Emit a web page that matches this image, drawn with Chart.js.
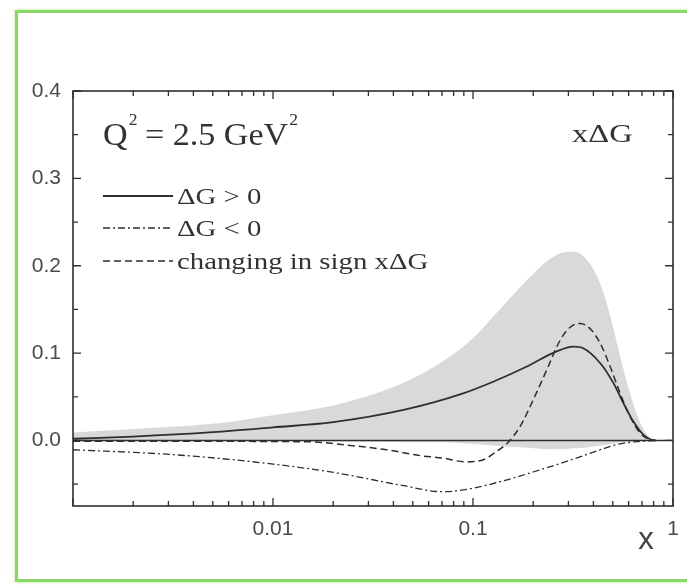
<!DOCTYPE html>
<html lang="en">
<head>
    <meta charset="UTF-8">
    <title>xΔG at Q² = 2.5 GeV²</title>
    <script src="https://cdn.jsdelivr.net/npm/chart.js"></script>
    <style>
        body {
            margin: 0;
            background: #fff;
            overflow: hidden;
        }

        #wrap {
            position: relative;
            width: 687px;
            height: 585px;
        }

        #frame {
            position: absolute;
            left: 15px;
            top: 10px;
            width: 700px;
            height: 566px;
            border: 3px solid #8cd862;
            box-shadow: 0 0 4px #bdeea4;
            pointer-events: none;
        }
    </style>
</head>
<body>

<div id="wrap">
    <canvas id="gluon-chart" width="687" height="585"></canvas>
    <div id="frame"></div>
</div>

<script>
    // error band of x*DeltaG (upper / lower edge, same x grid)
    const xBand = [0.001, 0.002, 0.005, 0.01, 0.02, 0.045, 0.07, 0.1, 0.13, 0.18, 0.24, 0.28, 0.32, 0.37, 0.43, 0.49, 0.55, 0.61, 0.68, 0.76, 0.82];
    const bandHi = [0.009, 0.013, 0.019, 0.029, 0.040, 0.066, 0.090, 0.117, 0.145, 0.180, 0.207, 0.215, 0.216, 0.207, 0.181, 0.139, 0.092, 0.054, 0.022, 0.004, 0.0];
    const bandLo = [-0.001, -0.001, -0.001, -0.001, -0.001, -0.002, -0.002, -0.004, -0.006, -0.008, -0.010, -0.010, -0.009, -0.008, -0.006, -0.004, -0.002, -0.001, 0.0, 0.0, 0.0];

    // DeltaG > 0
    const xPos = [0.001, 0.002, 0.005, 0.01, 0.02, 0.045, 0.087, 0.127, 0.186, 0.26, 0.318, 0.356, 0.433, 0.504, 0.565, 0.634, 0.712, 0.78, 0.82];
    const posVals = [0.002, 0.0045, 0.0095, 0.015, 0.021, 0.035, 0.053, 0.0675, 0.0846, 0.1017, 0.1074, 0.1056, 0.0884, 0.0656, 0.0427, 0.0217, 0.0065, 0.0008, 0.0];

    // DeltaG < 0
    const xNeg = [0.001, 0.0032, 0.01, 0.021, 0.045, 0.069, 0.08, 0.101, 0.148, 0.217, 0.318, 0.433, 0.544, 0.685, 0.82];
    const negVals = [-0.0106, -0.0163, -0.027, -0.0373, -0.0518, -0.0585, -0.058, -0.0545, -0.045, -0.0335, -0.0213, -0.0106, -0.0038, -0.001, 0.0];

    // changing in sign
    const xSign = [0.001, 0.005, 0.015, 0.025, 0.037, 0.055, 0.07, 0.092, 0.113, 0.131, 0.15, 0.172, 0.2, 0.234, 0.273, 0.306, 0.343, 0.385, 0.433, 0.485, 0.544, 0.611, 0.685, 0.77, 0.82];
    const signVals = [-0.001, -0.001, -0.0015, -0.006, -0.0106, -0.0175, -0.020, -0.0245, -0.022, -0.0126, -0.002, 0.016, 0.0465, 0.081, 0.115, 0.1296, 0.134, 0.128, 0.111, 0.0846, 0.054, 0.027, 0.0085, 0.001, 0.0];

    // axis ticks
    const xTicks = [0.01, 0.1, 1];
    const yTicks = [0, 0.1, 0.2, 0.3, 0.4];
    const yMinor = [-0.05, 0.05, 0.15, 0.25, 0.35];

    const legendItems = ['ΔG > 0', 'ΔG < 0', 'changing in sign xΔG'];

    const pts = (xs, ys) => xs.map((x, i) => ({ x: x, y: ys[i] }));

    const INK = '#2e2e2e';
    const SERIF = '"Liberation Serif", "DejaVu Serif", serif';
    const SANS = '"Liberation Sans", Arial, sans-serif';

    const lineStyles = [
        { width: 1.8, dash: [] },
        { width: 1.3, dash: [7, 3, 2, 3] },
        { width: 1.5, dash: [7, 4] }
    ];

    // stretched text, the figure is a bit wider than tall
    function stretchText(ctx, text, x, y, font, sx) {
        ctx.save();
        ctx.translate(x, y);
        ctx.scale(sx, 1);
        ctx.font = font;
        ctx.fillText(text, 0, 0);
        const w = ctx.measureText(text).width * sx;
        ctx.restore();
        return w;
    }

    const framePlugin = {
        id: 'frame',
        beforeDatasetsDraw(chart) {
            // zero line sits under the curves but over the band
        },
        afterDatasetDraw(chart, args) {
            if (args.index !== 1) return;
            const { ctx, chartArea: a, scales: { y } } = chart;
            const y0 = y.getPixelForValue(0);
            ctx.save();
            ctx.strokeStyle = INK;
            ctx.lineWidth = 1.5;
            ctx.beginPath();
            ctx.moveTo(a.left, y0);
            ctx.lineTo(a.right, y0);
            ctx.stroke();
            ctx.restore();
        },
        afterDraw(chart) {
            const { ctx, chartArea: a, scales: { x, y } } = chart;
            ctx.save();
            ctx.strokeStyle = INK;
            ctx.lineWidth = 1.6;
            ctx.strokeRect(a.left, a.top, a.right - a.left, a.bottom - a.top);

            // inward ticks on all four sides
            const major = 8, minor = 5;
            ctx.lineWidth = 1.3;
            ctx.beginPath();
            for (let dec = 0.001; dec < 1; dec *= 10) {
                for (let m = 1; m <= 10; m++) {
                    const v = dec * m;
                    if (v > 1.0001) continue;
                    const len = (m === 1 || m === 10) ? major : minor;
                    const px = x.getPixelForValue(v);
                    ctx.moveTo(px, a.bottom);
                    ctx.lineTo(px, a.bottom - len);
                    ctx.moveTo(px, a.top);
                    ctx.lineTo(px, a.top + len);
                }
            }
            yTicks.concat(yMinor).forEach(v => {
                const len = yMinor.includes(v) ? minor : major;
                const py = y.getPixelForValue(v);
                ctx.moveTo(a.left, py);
                ctx.lineTo(a.left + len, py);
                ctx.moveTo(a.right, py);
                ctx.lineTo(a.right - len, py);
            });
            ctx.stroke();

            // axis title
            ctx.fillStyle = '#444';
            ctx.font = '31px ' + SANS;
            ctx.textAlign = 'center';
            ctx.textBaseline = 'alphabetic';
            ctx.fillText('x', 646, 549);

            // annotations
            ctx.textAlign = 'left';
            ctx.fillStyle = '#333';
            let cx = 103;
            const big = '31px ' + SERIF, sup = '16px ' + SERIF;
            cx += stretchText(ctx, 'Q', cx, 145, big, 1.1);
            cx += stretchText(ctx, '2', cx + 1, 125, sup, 1.1);
            cx += stretchText(ctx, ' = 2.5 GeV', cx, 145, big, 1.1);
            stretchText(ctx, '2', cx + 1, 125, sup, 1.1);
            stretchText(ctx, 'xΔG', 572, 142, '25px ' + SERIF, 1.3);

            // legend
            const rowsY = [196, 228, 261];
            chart.data.datasets.slice(2).forEach((ds, i) => {
                const st = lineStyles[i];
                ctx.strokeStyle = ds.borderColor;
                ctx.lineWidth = st.width;
                ctx.setLineDash(st.dash);
                ctx.beginPath();
                ctx.moveTo(103, rowsY[i]);
                ctx.lineTo(173, rowsY[i]);
                ctx.stroke();
                ctx.setLineDash([]);
                stretchText(ctx, legendItems[i], 177, rowsY[i] + 8, '24px ' + SERIF, 1.2);
            });
            ctx.restore();
        }
    };

    const curve = (label, data, st) => ({
        label: label,
        data: data,
        borderColor: INK,
        borderWidth: st.width,
        borderDash: st.dash,
        pointRadius: 0,
        fill: false,
        order: 0,
        cubicInterpolationMode: 'monotone'
    });

    const ctx = document.getElementById('gluon-chart').getContext('2d');
    const gluonChart = new Chart(ctx, {
        type: 'line',
        data: {
            datasets: [
                {
                    label: 'band low',
                    data: pts(xBand, bandLo),
                    borderWidth: 0,
                    pointRadius: 0,
                    fill: false,
                    order: 10,
                    cubicInterpolationMode: 'monotone'
                },
                {
                    label: 'band high',
                    data: pts(xBand, bandHi),
                    borderWidth: 0,
                    pointRadius: 0,
                    backgroundColor: '#d8d9db',
                    fill: '-1',
                    order: 10,
                    cubicInterpolationMode: 'monotone'
                },
                curve(legendItems[0], pts(xPos, posVals), lineStyles[0]),
                curve(legendItems[1], pts(xNeg, negVals), lineStyles[1]),
                curve(legendItems[2], pts(xSign, signVals), lineStyles[2])
            ]
        },
        options: {
            responsive: false,
            animation: false,
            layout: {
                padding: { left: 0, top: 91, right: 14, bottom: 0 }
            },
            plugins: {
                legend: { display: false },
                tooltip: { enabled: false }
            },
            scales: {
                x: {
                    type: 'logarithmic',
                    min: 0.001,
                    max: 1,
                    grid: { display: false },
                    border: { display: false },
                    afterBuildTicks: s => { s.ticks = xTicks.map(v => ({ value: v })); },
                    afterFit: s => { s.height = 79; },
                    ticks: {
                        autoSkip: false,
                        maxRotation: 0,
                        padding: 3,
                        color: '#4a4a4a',
                        font: { family: SANS, size: 21 },
                        callback: v => String(v)
                    }
                },
                y: {
                    min: -0.075,
                    max: 0.4,
                    grid: { display: false },
                    border: { display: false },
                    afterBuildTicks: s => { s.ticks = yTicks.map(v => ({ value: v })); },
                    afterFit: s => { s.width = 73; },
                    ticks: {
                        padding: 4,
                        color: '#4a4a4a',
                        font: { family: SANS, size: 21 },
                        callback: v => v.toFixed(1)
                    }
                }
            }
        },
        plugins: [framePlugin]
    });
</script>

</body>
</html>
